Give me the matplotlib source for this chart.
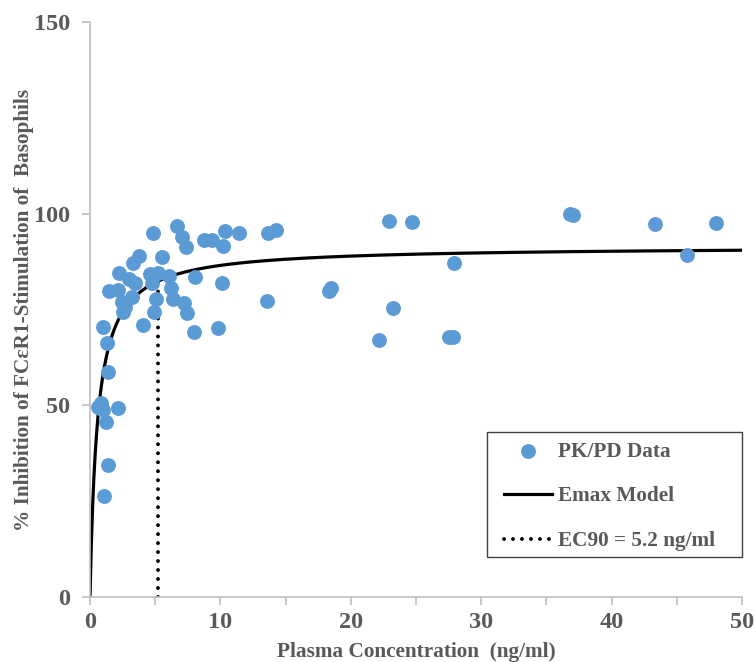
import numpy as np
import matplotlib
matplotlib.use("Agg")
import matplotlib.pyplot as plt
from matplotlib.ticker import MultipleLocator
from matplotlib.patches import Rectangle

conc = [4.86, 6.65, 7.03, 7.36, 8.74, 9.33, 10.35, 11.45, 10.2, 3.78, 3.32, 5.52,
        2.25, 3.02, 3.45, 4.6, 5.24, 4.73, 6.08, 8.05, 10.1, 1.48, 2.17, 2.43,
        3.2, 2.68, 2.5, 5.06, 4.9, 6.19, 6.39, 7.21, 7.41, 4.09, 7.98, 9.84,
        1.02, 1.28, 1.41, 0.82, 1.02, 0.64, 2.17, 1.23, 1.41, 1.07,
        22.95, 24.66, 13.67, 14.3, 13.55, 18.3, 18.5, 23.2, 22.2,
        36.8, 37.07, 43.3, 47.98, 45.8, 27.9, 27.5, 27.8]
inhib = [95.0, 96.8, 94.0, 91.2, 93.0, 93.1, 95.5, 95.0, 91.6, 89.0, 87.0, 88.6,
         84.4, 82.9, 81.8, 84.3, 84.4, 82.0, 83.7, 83.4, 82.0, 79.7, 80.1, 77.0,
         78.3, 75.7, 74.4, 77.7, 74.4, 80.5, 77.7, 76.6, 74.2, 71.0, 69.2, 70.3,
         70.5, 66.2, 58.8, 50.7, 48.8, 49.6, 49.2, 45.7, 34.4, 26.3,
         98.1, 97.7, 95.0, 95.7, 77.3, 79.8, 80.5, 75.5, 67.0,
         99.9, 99.6, 97.2, 97.5, 89.2, 87.0, 67.8, 67.8]

# Emax model parameters
EMAX = 91.5
EC90 = 5.2
HILL = 1.0
EC50 = EC90 / 9 ** (1 / HILL)

x_ticks = [0, 10, 20, 30, 40, 50]
y_ticks = [0, 50, 100, 150]

plt.rcParams['font.family'] = ['Liberation Serif', 'DejaVu Serif']
plt.rcParams['font.weight'] = 'bold'
gray_txt = '#595959'
gray_ax = '#bfbfbf'

fig = plt.figure(figsize=(7.55, 6.62), dpi=100)
ax = fig.add_axes([0.1192, 0.0982, 0.8636, 0.8686])

xc = np.linspace(0.0, 50, 1000)
yc = EMAX * xc ** HILL / (EC50 ** HILL + xc ** HILL)

ax.scatter(conc, inhib, s=115, color='#5b9bd5', zorder=3, label='PK/PD Data', linewidths=0)
ax.plot(xc, yc, color='black', lw=2.3, zorder=2, label='Emax Model')
e_at_ec90 = EMAX * EC90 ** HILL / (EC50 ** HILL + EC90 ** HILL)
ax.plot([EC90, EC90], [0, e_at_ec90], color='black', lw=2.8, linestyle=(0, (0.01, 2.3)),
        dash_capstyle='round', zorder=2, label='EC90 = 5.2 ng/ml')

ax.set_xlim(0, 50)
ax.set_ylim(0, 150)
ax.set_xticks(x_ticks)
ax.set_yticks(y_ticks)
ax.xaxis.set_minor_locator(MultipleLocator(5))
for s in ['top', 'right']:
    ax.spines[s].set_visible(False)
for s in ['left', 'bottom']:
    ax.spines[s].set_color(gray_ax)
    ax.spines[s].set_linewidth(1.2)
ax.tick_params(axis='both', which='both', direction='out', color=gray_ax, width=1.2,
               labelcolor=gray_txt, labelsize=17.5)
ax.tick_params(axis='x', which='major', length=6, pad=5)
ax.tick_params(axis='x', which='minor', length=6)
ax.tick_params(axis='y', length=6, pad=8)
for lab in ax.get_xticklabels() + ax.get_yticklabels():
    lab.set_fontweight('bold')

ax.set_xlabel('Plasma Concentration  (ng/ml)', fontsize=15.3, fontweight='bold',
              color=gray_txt, labelpad=6)
ax.set_ylabel('% Inhibition of FCεR1-Stimulation of  Basophils', fontsize=15.3,
              fontweight='bold', color=gray_txt, labelpad=0)

# legend frame drawn as a rectangle (axes fraction)
fx0, fx1 = (487 - 90) / 652, 1.0
fy0, fy1 = (597 - 557) / 575, (597 - 432) / 575
ax.add_patch(Rectangle((fx0, fy0), fx1 - fx0, fy1 - fy0, transform=ax.transAxes,
                       facecolor='white', edgecolor='#404040', lw=1.0, zorder=5,
                       clip_on=False))
leg = ax.legend(loc='upper left', bbox_to_anchor=((494 - 90) / 652, fy1), frameon=False,
                fontsize=15.3, handlelength=2.3, handletextpad=0.25,
                labelspacing=1.17, borderpad=0.45, borderaxespad=0)
leg.set_zorder(6)
for t in leg.get_texts():
    t.set_color(gray_txt)
    t.set_fontweight('bold')

fig.savefig('out.png', dpi=100)
